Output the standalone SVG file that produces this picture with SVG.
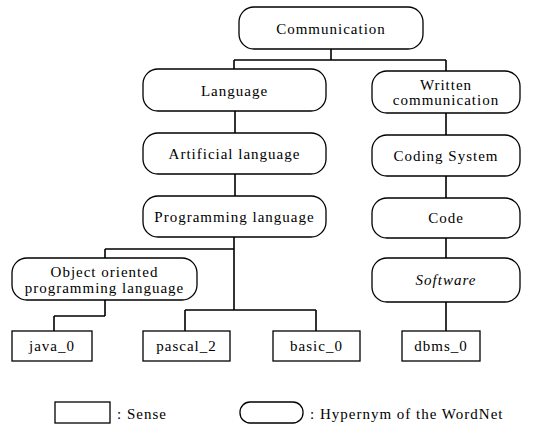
<svg xmlns="http://www.w3.org/2000/svg" width="548" height="425" viewBox="0 0 548 425">
<style>
.h{fill:#fff;stroke:#000;stroke-width:1.3}
.s{fill:#fff;stroke:#000;stroke-width:1.3}
.c{fill:none;stroke:#000;stroke-width:1.6}
text{font-size:15px;letter-spacing:1px;fill:#000;text-anchor:middle}
.l{text-anchor:start}
</style>
<rect width="548" height="425" fill="#fff"/>
<g id="connectors">
<path class="c" d="M331 49V60M234 60H446M234 60V69M446 60V71"/>
<path class="c" d="M235 111V133M235 174V196"/>
<path class="c" d="M446 113V135M446 176V198M446 238V258M446 302V331"/>
<path class="c" d="M234 237V310M105 249H234M105 249V258M185 310H316M185 310V331M316 310V331"/>
<path class="c" d="M105 300V316M54 316H105M54 316V331"/>
</g>
<g font-family="Liberation Serif, serif">
<g id="communication"><rect class="h" x="239" y="7" width="184" height="42" rx="15"/><text x="331" y="33.5">Communication</text></g>
<g id="language"><rect class="h" x="143" y="69" width="183" height="42" rx="15"/><text x="234.5" y="95.5">Language</text></g>
<g id="written"><rect class="h" x="372" y="71" width="148" height="42" rx="15"/><text x="446" y="89.5">Written</text><text x="446" y="105">communication</text></g>
<g id="artificial"><rect class="h" x="143" y="133" width="183" height="41" rx="15"/><text x="234.5" y="159">Artificial language</text></g>
<g id="coding"><rect class="h" x="372" y="135" width="148" height="41" rx="15"/><text x="446" y="161">Coding System</text></g>
<g id="programming"><rect class="h" x="143" y="196" width="183" height="41" rx="15"/><text x="234.5" y="222">Programming language</text></g>
<g id="code"><rect class="h" x="372" y="198" width="148" height="40" rx="15"/><text x="446" y="223">Code</text></g>
<g id="oop"><rect class="h" x="12" y="258" width="185" height="42" rx="15"/><text x="104.5" y="276.5">Object oriented</text><text x="104.5" y="292.5">programming language</text></g>
<g id="software"><rect class="h" x="372" y="258" width="148" height="44" rx="15"/><text x="446" y="285" font-style="italic">Software</text></g>
<g id="java"><rect class="s" x="12" y="331" width="80" height="30"/><text x="52" y="351">java_0</text></g>
<g id="pascal"><rect class="s" x="143" y="331" width="87" height="30"/><text x="186.5" y="351">pascal_2</text></g>
<g id="basic"><rect class="s" x="273" y="331" width="87" height="30"/><text x="316.5" y="351">basic_0</text></g>
<g id="dbms"><rect class="s" x="402" y="331" width="78" height="30"/><text x="441" y="351">dbms_0</text></g>
<g id="legend">
<rect class="s" x="55" y="402" width="55" height="21"/><text class="l" x="117" y="419">: Sense</text>
<rect class="h" x="240" y="402" width="63" height="21" rx="10"/><text class="l" x="310" y="419">: Hypernym of the WordNet</text>
</g>
</g>
</svg>
